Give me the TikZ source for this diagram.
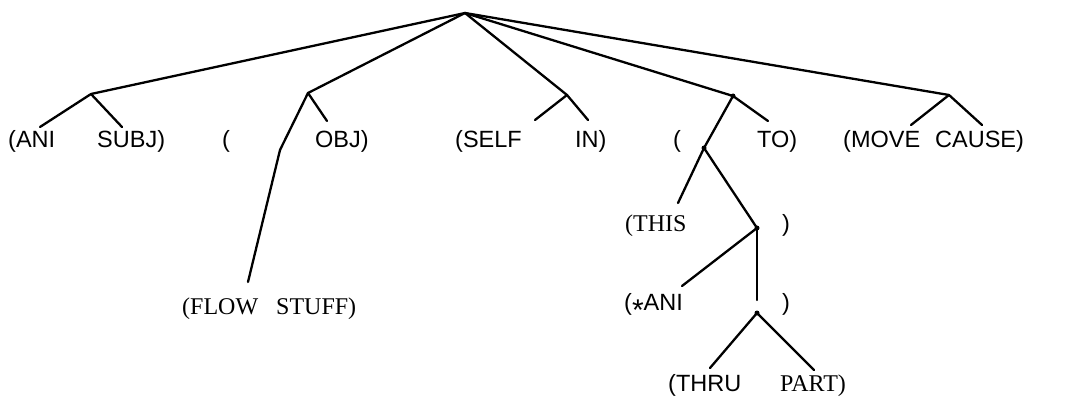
\documentclass[tikz,border=0pt]{standalone}
\usepackage{fontspec}
\setmainfont{Liberation Serif}
\newfontfamily\lblfont{Liberation Sans}
\begin{document}
\begin{tikzpicture}[x=1pt,y=-1pt,
  edge/.style={line width=2.3pt,line cap=round,line join=round},
  sanslbl/.style={anchor=base west,inner sep=0pt,font=\lblfont\fontsize{23.5}{24}\selectfont},
  seriflbl/.style={anchor=base west,inner sep=0pt,font=\fontsize{24}{24}\selectfont},
  dotmark/.style={circle,fill=black,inner sep=0pt,minimum size=5pt}]
\useasboundingbox (0,0) rectangle (1067,398);
% internal points
\coordinate (root) at (465,13);
\coordinate (A) at (91,94);
\coordinate (B) at (308,93);
\coordinate (Bk) at (280,150);
\coordinate (C) at (567,95);
\coordinate (D) at (733,96);
\coordinate (E) at (704,148);
\coordinate (F) at (757,228);
\coordinate (G) at (757,313);
\coordinate (H) at (949,95);
% leaf ends
\coordinate (aL) at (40,127);
\coordinate (aR) at (122,127);
\coordinate (bR) at (327,121);
\coordinate (bD) at (248,282);
\coordinate (cL) at (535,120);
\coordinate (cR) at (588,120);
\coordinate (dR) at (768,121);
\coordinate (eL) at (678,203);
\coordinate (fL) at (682,286);
\coordinate (fD) at (757,300);
\coordinate (gL) at (710,368);
\coordinate (gR) at (814,370);
\coordinate (hL) at (911,125);
\coordinate (hR) at (982,125);
% labels
\node[sanslbl] (t1) at (8,148) {(ANI};
\node[sanslbl] (t2) at (97,148) {SUBJ)};
\node[sanslbl] (t3) at (222,148) {(};
\node[sanslbl] (t4) at (315,148) {OBJ)};
\node[sanslbl] (t5) at (455,148) {(SELF};
\node[sanslbl] (t6) at (575,148) {IN)};
\node[sanslbl] (t7) at (673,148) {(};
\node[sanslbl] (t8) at (757,148) {TO)};
\node[sanslbl] (t9) at (843,148) {(MOVE};
\node[sanslbl] (t10) at (935,148) {CAUSE)};
\node[seriflbl] (t11) at (182,314) {(FLOW\ \ \ STUFF)};
\node[seriflbl] (t12) at (625,231) {(THIS};
\node[sanslbl] (t13) at (782,231) {)};
\node[sanslbl] (t14) at (624,310) {(\raisebox{-0.45em}{\fontsize{30}{30}\selectfont *}ANI};
\node[sanslbl] (t15) at (782,310) {)};
\node[sanslbl] (t16) at (668,391) {(THRU};
\node[seriflbl] (t17) at (780,391) {PART)};
% edges
\draw[edge] (root) -- (A);
\draw[edge] (root) -- (B);
\draw[edge] (root) -- (C);
\draw[edge] (root) -- (D);
\draw[edge] (root) -- (H);
\draw[edge] (A) -- (aL);
\draw[edge] (A) -- (aR);
\draw[edge] (B) -- (bR);
\draw[edge] (B) -- (Bk) -- (bD);
\draw[edge] (C) -- (cL);
\draw[edge] (C) -- (cR);
\draw[edge] (D) -- (dR);
\draw[edge] (D) -- (E);
\draw[edge] (E) -- (eL);
\draw[edge] (E) -- (F);
\draw[edge] (F) -- (fL);
\draw[edge] (F) -- (fD);
\draw[edge] (G) -- (gL);
\draw[edge] (G) -- (gR);
\draw[edge] (H) -- (hL);
\draw[edge] (H) -- (hR);
\node[dotmark] (dD) at (D) {};
\node[dotmark] (dE) at (E) {};
\node[dotmark] (dF) at (F) {};
\node[dotmark] (dG) at (G) {};
\end{tikzpicture}
\end{document}
